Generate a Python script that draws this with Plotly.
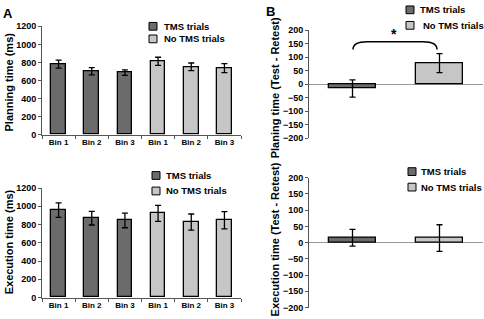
import plotly.graph_objects as go

# ---------------- data ----------------
bin_labels = ["Bin 1", "Bin 2", "Bin 3", "Bin 1", "Bin 2", "Bin 3"]
a_categories = ["TMS Bin 1", "TMS Bin 2", "TMS Bin 3", "NoTMS Bin 1", "NoTMS Bin 2", "NoTMS Bin 3"]
tms_cats = a_categories[:3]
notms_cats = a_categories[3:]

plan_tms = [782, 702, 688]
plan_tms_err = [45, 40, 30]
plan_notms = [813, 752, 737]
plan_notms_err = [45, 42, 50]

exec_tms = [958, 870, 845]
exec_tms_err = [80, 75, 80]
exec_notms = [922, 828, 847]
exec_notms_err = [88, 88, 95]

b_categories = ["TMS trials", "No TMS trials"]
plan_diff = [-16, 78]
plan_diff_err = [32, 35]
exec_diff = [15, 14]
exec_diff_err = [26, 41]

DARK = "#6b6b6b"
LIGHT = "#c6c6c6"
FONT = "Liberation Sans"
W, H = 484, 319


def px(x):
    return x / W


def py(y):
    return 1 - y / H


def bar(x, y, err, color, xa, ya, width):
    return go.Bar(
        x=x, y=y, xaxis=xa, yaxis=ya, width=width,
        marker=dict(color=color, line=dict(color="black", width=1.3)),
        error_y=dict(type="data", array=err, visible=True, color="black",
                     thickness=1.3, width=3),
        showlegend=False,
    )


fig = go.Figure()
fig.add_trace(bar(tms_cats, plan_tms, plan_tms_err, DARK, "x", "y", 0.44))
fig.add_trace(bar(notms_cats, plan_notms, plan_notms_err, LIGHT, "x", "y", 0.44))
fig.add_trace(bar(tms_cats, exec_tms, exec_tms_err, DARK, "x2", "y2", 0.44))
fig.add_trace(bar(notms_cats, exec_notms, exec_notms_err, LIGHT, "x2", "y2", 0.44))
fig.add_trace(bar([b_categories[0]], [plan_diff[0]], [plan_diff_err[0]], DARK, "x3", "y3", 0.53))
fig.add_trace(bar([b_categories[1]], [plan_diff[1]], [plan_diff_err[1]], LIGHT, "x3", "y3", 0.53))
fig.add_trace(bar([b_categories[0]], [exec_diff[0]], [exec_diff_err[0]], DARK, "x4", "y4", 0.53))
fig.add_trace(bar([b_categories[1]], [exec_diff[1]], [exec_diff_err[1]], LIGHT, "x4", "y4", 0.53))

tickfont = dict(family=FONT, size=9, color="black", weight="bold")
binfont = dict(family=FONT, size=8, color="black", weight="bold")

a_x = dict(type="category", categoryorder="array", categoryarray=a_categories,
           tickmode="array", tickvals=a_categories, ticktext=bin_labels,
           tickson="boundaries", ticks="outside", ticklen=3, tickcolor="#555",
           showline=True, linecolor="#555", linewidth=1, tickfont=binfont,
           range=[-0.5, 5.5], showgrid=False, zeroline=False)
a_y = dict(range=[0, 1200], dtick=200, ticks="outside", ticklen=3, tickcolor="#555",
           showline=True, linecolor="#555", linewidth=1, tickfont=tickfont,
           showgrid=False, zeroline=False)
b_x = dict(type="category", categoryorder="array", categoryarray=b_categories,
           range=[-0.5, 1.5], showticklabels=False, ticks="", showline=False,
           showgrid=False, zeroline=False)
b_y = dict(range=[-200, 200], dtick=50, ticks="outside", ticklen=3, tickcolor="#555",
           showline=True, linecolor="#555", linewidth=1, tickfont=tickfont,
           showgrid=False, zeroline=True, zerolinecolor="#999", zerolinewidth=1)

fig.update_layout(
    width=W, height=H,
    margin=dict(l=0, r=0, t=0, b=0),
    paper_bgcolor="white", plot_bgcolor="white",
    bargap=0,
    font=dict(family=FONT, color="black"),
    xaxis=dict(a_x, domain=[px(42), px(241)], anchor="y"),
    yaxis=dict(a_y, domain=[py(134), py(22)], anchor="x"),
    xaxis2=dict(a_x, domain=[px(42), px(241)], anchor="y2"),
    yaxis2=dict(a_y, domain=[py(302), py(189)], anchor="x2"),
    xaxis3=dict(b_x, domain=[px(309), px(483)], anchor="y3"),
    yaxis3=dict(b_y, domain=[py(137.5), py(26)], anchor="x3"),
    xaxis4=dict(b_x, domain=[px(309), px(483)], anchor="y4"),
    yaxis4=dict(b_y, domain=[py(312.3), py(178.3)], anchor="x4"),
)

annotations = []
shapes = []


def text(x, y, t, size, angle=0, xanchor="center"):
    annotations.append(dict(
        x=px(x), y=py(y), xref="paper", yref="paper", text=t, showarrow=False,
        textangle=angle, xanchor=xanchor, yanchor="middle",
        font=dict(family=FONT, size=size, color="black", weight="bold")))


# panel letters
text(8, 9, "A", 13)
text(270, 7, "B", 13)

# axis titles
text(9, 80, "Planning time (ms)", 11, -90)
text(9, 245, "Execution time (ms)", 11, -90)
text(275, 86, "Planing time (Test - Retest)", 11, -90)
text(275, 242, "Execution time (Test - Retest)", 11, -90)


# legends
def legend(mx, rows, colors, names, tx):
    for (my, c, n, t) in zip(rows, colors, names, tx):
        shapes.append(dict(type="rect", xref="paper", yref="paper",
                           x0=px(mx - 4), x1=px(mx + 4), y0=py(my + 4), y1=py(my - 4),
                           fillcolor=c, line=dict(color="black", width=1)))
        text(t, my, n, 9.5, xanchor="left")


legend(153, [22, 35], [DARK, LIGHT], b_categories, [162, 162])
legend(156, [176, 192], [DARK, LIGHT], b_categories, [164, 164])
legend(410, [5, 21], [DARK, LIGHT], b_categories, [418, 421])
legend(412, [172, 188], [DARK, LIGHT], b_categories, [419, 419])

# significance bracket
x0, x1 = px(353), px(437)
yt, yb = py(38), py(46)
dx = px(14)
shapes.append(dict(
    type="path", xref="paper", yref="paper",
    path=f"M {x0},{yb} Q {x0},{yt} {x0+dx},{yt} L {x1-dx},{yt} Q {x1},{yt} {x1},{yb}",
    line=dict(color="black", width=1.5)))
text(394, 30, "*", 14)

fig.update_layout(annotations=annotations, shapes=shapes)
fig.write_html(
    "out.html",
    config={"displayModeBar": False},
    post_script="document.body.style.margin='0';document.body.style.overflow='hidden';",
)
